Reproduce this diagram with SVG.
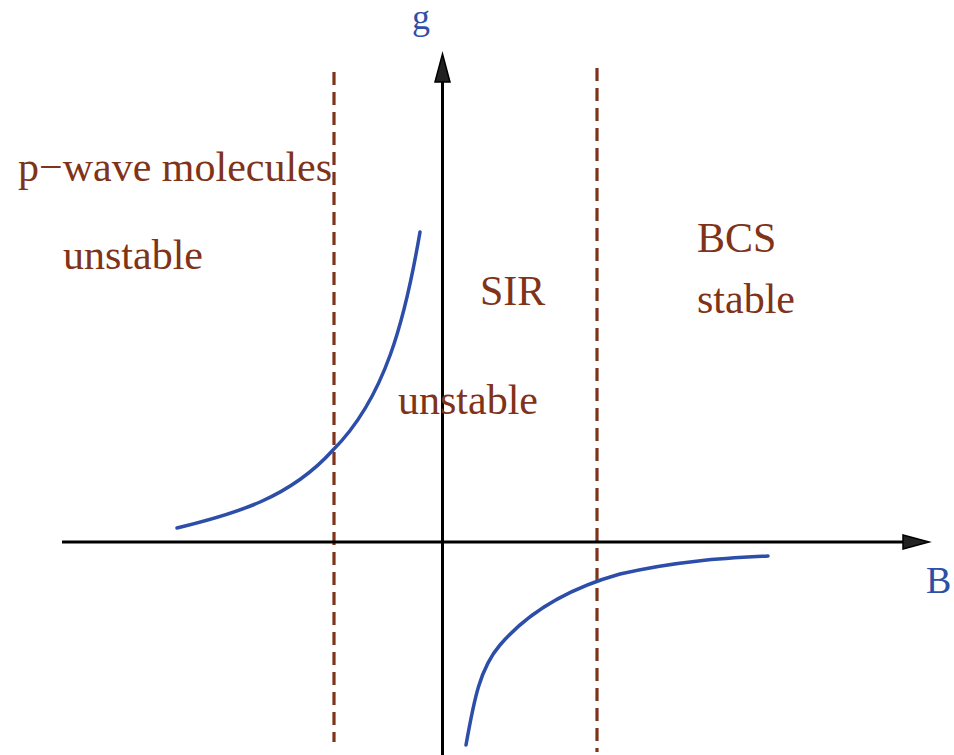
<svg xmlns="http://www.w3.org/2000/svg" width="954" height="755" viewBox="0 0 954 755">
<style>
.lbl{font-family:"Liberation Serif","Times New Roman",serif;font-size:42px;fill:#7f3319}
.ax{font-family:"Liberation Serif","Times New Roman",serif;fill:#2f4fa6}
.axis{stroke:#000;stroke-width:3;fill:none}
.dash{stroke:#7f3319;stroke-width:3.2;stroke-dasharray:13 7;fill:none}
.curve{stroke:#2d4ea8;stroke-width:3.5;fill:none;stroke-linecap:round}
.head{fill:#222;stroke:#000;stroke-width:1.5;stroke-linejoin:miter}
</style>
<rect width="954" height="755" fill="#fff"/>
<g id="boundaries">
<line class="dash" x1="334" y1="72" x2="334" y2="742"/>
<line class="dash" x1="597" y1="68" x2="597" y2="752"/>
</g>
<g id="axes">
<line class="axis" x1="442.5" y1="755" x2="442.5" y2="78"/>
<polygon class="head" points="442.5,54 435,82 450,82"/>
<line class="axis" x1="62" y1="542" x2="906" y2="542"/>
<polygon class="head" points="929,542 903,535 903,549"/>
<text class="ax" x="412" y="29" font-size="36">g</text>
<text class="ax" x="926" y="593" font-size="38">B</text>
</g>
<g id="curves">
<path class="curve" d="M177,528 C235,514 290,498 333,450 C385,398 405,320 420,232"/>
<path class="curve" d="M466,745 C474,700 480,668 500,645 C530,610 570,588 620,574 C680,560 730,558 768,556"/>
</g>
<g id="labels">
<text class="lbl" x="18" y="181">p−wave molecules</text>
<text class="lbl" x="63" y="269">unstable</text>
<text class="lbl" x="480" y="305">SIR</text>
<text class="lbl" x="398" y="414">unstable</text>
<text class="lbl" x="697" y="252">BCS</text>
<text class="lbl" x="697" y="313">stable</text>
</g>
</svg>
